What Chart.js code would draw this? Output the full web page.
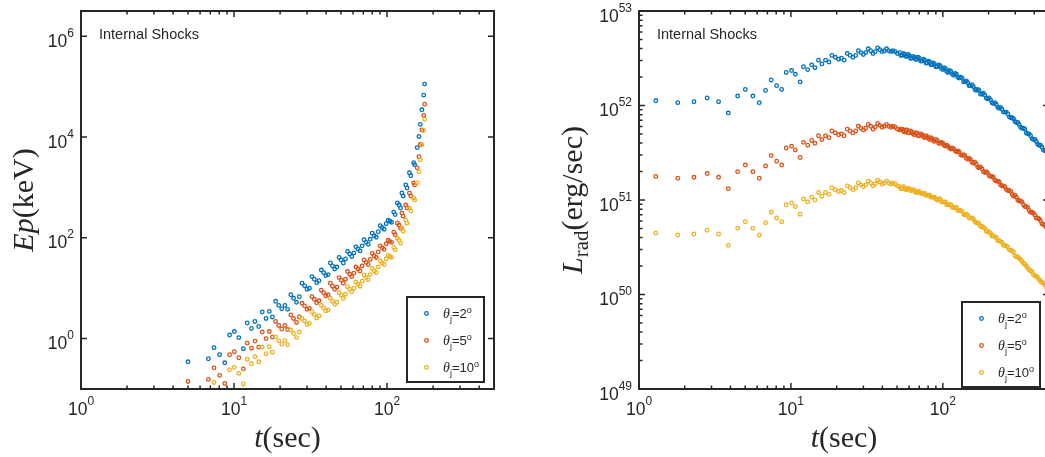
<!DOCTYPE html>
<html>
<head>
<meta charset="utf-8">
<title>Internal shocks: Ep and L_rad vs t</title>
<script src="https://cdn.jsdelivr.net/npm/chart.js@4.4.1/dist/chart.umd.min.js"></script>
<style>
  html, body { margin: 0; padding: 0; background: #fff; overflow: hidden; }
  #wrap { position: relative; width: 1045px; height: 457px; overflow: hidden; }
  canvas { position: absolute; top: 0; }
  #epChart { left: 0; }
  #lumChart { left: 530px; }
</style>
</head>
<body>
<div id="wrap">
  <canvas id="epChart" width="530" height="457"></canvas>
  <canvas id="lumChart" width="530" height="457"></canvas>
</div>
<script>
// jet opening angles (deg), one series per angle
const jetAngles = [2, 5, 10];
const seriesColors = ['#0072BD', '#D95319', '#EDB120'];
const panelNote = 'Internal Shocks';

// tick decades (exponents of 10)
const timeTickExps = [0, 1, 2];
const epTickExps = [0, 2, 4, 6];
const lumTickExps = [49, 50, 51, 52, 53];

// peak energy: t (sec) and log10(Ep / keV); null = off the bottom of the plot
const epTime = [
  5.0, 6.8, 7.4, 8.05, 8.7, 9.35, 10.05, 10.75, 11.5, 12.2,
  13.0, 13.7, 14.5, 15.3, 16.2, 17.0, 17.8, 18.7, 19.6, 20.5,
  21.5, 22.4, 23.5, 24.5, 25.6, 26.7, 27.8, 28.9, 30.0, 31.1,
  32.3, 33.5, 34.7, 35.9, 37.2, 38.5, 39.8, 41.2, 42.6, 44.0,
  45.5, 47.0, 48.6, 50.2, 51.8, 53.5, 55.2, 57.0, 58.8, 60.7,
  62.6, 64.6, 66.6, 68.7, 70.8, 73.0, 75.3, 77.6, 80.0, 82.5,
  85.0, 87.6, 90.3, 93.0, 95.8, 98.7, 101.6, 104.3, 107.1, 110.6,
  112.9, 116.8, 120.0, 122.5, 125.0, 127.4, 132.5, 135.0, 140.0, 143.0,
  149.2, 151.5, 157.4, 161.5, 165.0, 169.0, 173.6, 176.0
];
const logEp2 = [
  -0.46, -0.40, -0.18, -0.32, -0.48, 0.07, 0.14, 0.02, -0.20, 0.31,
  0.20, 0.34, 0.24, 0.53, 0.40, 0.54, 0.43, 0.74, 0.66, 0.59,
  0.66, 0.58, 0.87, 0.80, 0.72, 0.83, 1.10, 1.05, 0.98, 1.00,
  1.23, 1.18, 1.11, 1.15, 1.36, 1.31, 1.25, 1.27, 1.50, 1.44,
  1.38, 1.42, 1.61, 1.56, 1.50, 1.58, 1.73, 1.68, 1.63, 1.70,
  1.82, 1.78, 1.74, 1.84, 1.96, 1.91, 1.87, 1.97, 2.09, 2.04,
  2.01, 2.12, 2.24, 2.20, 2.17, 2.28, 2.35, 2.33, 2.31, 2.51,
  2.46, 2.69, 2.65, 2.59, 2.89, 2.83, 3.05, 2.99, 3.29, 3.23,
  3.49, 3.45, 3.79, 4.01, 4.25, 4.54, 4.83, 5.05
];
const logEp5 = [
  -0.85, -0.81, -0.58, -0.73, -0.89, -0.32, -0.26, -0.38, -0.60, -0.09,
  -0.19, -0.05, -0.17, 0.13, 0.00, 0.14, 0.03, 0.34, 0.26, 0.19,
  0.26, 0.18, 0.47, 0.40, 0.32, 0.43, 0.70, 0.65, 0.58, 0.60,
  0.83, 0.78, 0.71, 0.75, 0.96, 0.91, 0.85, 0.87, 1.10, 1.04,
  0.98, 1.02, 1.21, 1.16, 1.10, 1.18, 1.33, 1.28, 1.23, 1.30,
  1.42, 1.38, 1.34, 1.44, 1.56, 1.51, 1.47, 1.57, 1.69, 1.64,
  1.61, 1.72, 1.84, 1.80, 1.77, 1.88, 1.95, 1.93, 1.91, 2.11,
  2.06, 2.29, 2.25, 2.19, 2.49, 2.43, 2.65, 2.59, 2.89, 2.83,
  3.09, 3.05, 3.39, 3.61, 3.85, 4.14, 4.43, 4.65
];
const logEp10 = [
  null, null, -0.87, null, null, -0.62, -0.57, -0.69, -0.90, -0.41,
  -0.50, -0.36, -0.46, -0.17, -0.30, -0.16, -0.27, 0.04, -0.04, -0.11,
  -0.04, -0.12, 0.17, 0.10, 0.02, 0.13, 0.40, 0.35, 0.28, 0.30,
  0.53, 0.48, 0.41, 0.45, 0.66, 0.61, 0.55, 0.57, 0.80, 0.74,
  0.68, 0.72, 0.91, 0.86, 0.80, 0.88, 1.03, 0.98, 0.93, 1.00,
  1.12, 1.08, 1.04, 1.14, 1.26, 1.21, 1.17, 1.27, 1.39, 1.34,
  1.31, 1.42, 1.54, 1.50, 1.47, 1.58, 1.65, 1.63, 1.61, 1.81,
  1.76, 1.99, 1.95, 1.89, 2.19, 2.13, 2.35, 2.29, 2.59, 2.53,
  2.79, 2.75, 3.09, 3.31, 3.55, 3.84, 4.13, 4.35
];

// radiated luminosity: t (sec) and log10(L_rad / erg s^-1)
const lumTime = [
  1.29, 1.80, 2.30, 2.81, 3.34, 3.87, 4.46, 5.01, 5.62, 6.19,
  6.81, 7.42, 8.05, 8.69, 9.31, 10.1, 10.7, 11.5, 12.1, 12.9,
  13.7, 14.4, 15.2, 16.0, 16.9, 17.8, 18.6, 19.6, 20.6,
  21.5, 22.4, 23.5, 24.5, 25.6, 26.7, 27.8, 28.9, 30.0, 31.1,
  32.3, 33.5, 34.7, 35.9, 37.2, 38.5, 39.8, 41.2, 42.6, 44.0,
  45.5, 47.0, 48.6, 50.2,
  52, 53, 54, 55, 56, 57, 58, 59, 60, 61.2,
  62.5, 63.7, 65, 66.2, 67.5, 68.7, 70, 71.5, 73, 74.5,
  76, 77.5, 79, 80.5, 82, 83.5, 85, 86.5, 88, 90,
  92, 94, 96, 98, 100, 102, 104, 106, 108, 110.5,
  113, 115.5, 118, 120.5, 123, 125.5, 128, 131, 134, 137,
  140, 143, 146, 149, 152, 155.5, 159, 162.5, 166, 169.5,
  173, 177, 181, 185, 189, 193, 197, 201.5, 206, 210.5,
  215, 220, 225, 230, 235, 240, 245, 250.5, 256, 262,
  268, 274, 280, 286, 292, 298.5, 305, 311.5, 318, 325,
  332, 339.5, 347, 354.5, 362, 370, 378, 386.5, 395, 403.5,
  412, 421, 430, 439.5, 449, 459, 469, 479.5, 490
];
const logL2 = [
  52.05, 52.03, 52.04, 52.08, 52.04, 51.92, 52.10, 52.17, 52.10, 52.03,
  52.16, 52.27, 52.21, 52.17, 52.35, 52.37, 52.33, 52.25, 52.41, 52.38,
  52.43, 52.40, 52.48, 52.44, 52.48, 52.46, 52.53, 52.51, 52.49,
  52.50, 52.48, 52.55, 52.53, 52.51, 52.53, 52.58, 52.56, 52.54, 52.56,
  52.60, 52.58, 52.55, 52.57, 52.61, 52.59, 52.57, 52.58, 52.60, 52.58,
  52.57, 52.58, 52.57, 52.55,
  52.56, 52.53, 52.53, 52.55, 52.54, 52.52, 52.52, 52.54, 52.53, 52.50,
  52.50, 52.52, 52.51, 52.49, 52.49, 52.51, 52.50, 52.47, 52.47, 52.49,
  52.48, 52.45, 52.45, 52.47, 52.46, 52.43, 52.43, 52.45, 52.44, 52.41,
  52.41, 52.43, 52.42, 52.39, 52.38, 52.40, 52.39, 52.36, 52.35, 52.37,
  52.36, 52.33, 52.32, 52.34, 52.33, 52.30, 52.29, 52.30, 52.29, 52.25,
  52.25, 52.26, 52.24, 52.21, 52.21, 52.22, 52.20, 52.17, 52.16, 52.17,
  52.16, 52.12, 52.12, 52.13, 52.11, 52.08, 52.07, 52.08, 52.06, 52.03,
  52.02, 52.03, 52.01, 51.98, 51.97, 51.98, 51.96, 51.93, 51.93, 51.93,
  51.91, 51.88, 51.87, 51.87, 51.86, 51.83, 51.82, 51.82, 51.80, 51.77,
  51.76, 51.76, 51.75, 51.71, 51.70, 51.70, 51.68, 51.65, 51.64, 51.64,
  51.62, 51.59, 51.58, 51.58, 51.56, 51.53, 51.52, 51.52, 51.50
];
const logL5 = [
  51.25, 51.23, 51.24, 51.28, 51.24, 51.12, 51.30, 51.37, 51.30, 51.23,
  51.36, 51.47, 51.41, 51.37, 51.55, 51.57, 51.53, 51.45, 51.61, 51.58,
  51.63, 51.60, 51.68, 51.64, 51.68, 51.66, 51.73, 51.71, 51.69,
  51.70, 51.68, 51.75, 51.73, 51.71, 51.73, 51.78, 51.76, 51.74, 51.76,
  51.80, 51.78, 51.75, 51.77, 51.81, 51.79, 51.77, 51.78, 51.80, 51.78,
  51.77, 51.78, 51.77, 51.75,
  51.74, 51.75, 51.75, 51.73, 51.72, 51.74, 51.74, 51.71, 51.71, 51.73,
  51.72, 51.70, 51.69, 51.71, 51.71, 51.68, 51.68, 51.70, 51.69, 51.67,
  51.66, 51.68, 51.67, 51.65, 51.64, 51.66, 51.65, 51.63, 51.62, 51.64,
  51.63, 51.60, 51.60, 51.61, 51.60, 51.58, 51.57, 51.58, 51.57, 51.55,
  51.54, 51.55, 51.54, 51.52, 51.51, 51.52, 51.51, 51.48, 51.47, 51.48,
  51.47, 51.44, 51.43, 51.44, 51.43, 51.40, 51.39, 51.40, 51.38, 51.35,
  51.34, 51.35, 51.33, 51.30, 51.29, 51.30, 51.29, 51.26, 51.25, 51.25,
  51.24, 51.21, 51.20, 51.20, 51.19, 51.16, 51.15, 51.15, 51.14, 51.11,
  51.10, 51.10, 51.09, 51.06, 51.04, 51.05, 51.03, 51.00, 50.99, 50.99,
  50.98, 50.95, 50.93, 50.93, 50.92, 50.89, 50.87, 50.87, 50.86, 50.84,
  50.81, 50.81, 50.80, 50.78, 50.75, 50.74, 50.73, 50.71, 50.69
];
const logL10 = [
  50.65, 50.63, 50.64, 50.68, 50.64, 50.52, 50.70, 50.77, 50.70, 50.63,
  50.76, 50.87, 50.81, 50.77, 50.95, 50.97, 50.93, 50.85, 51.01, 50.98,
  51.03, 51.00, 51.08, 51.04, 51.08, 51.06, 51.13, 51.11, 51.09,
  51.10, 51.08, 51.15, 51.13, 51.11, 51.13, 51.18, 51.16, 51.14, 51.16,
  51.20, 51.18, 51.15, 51.17, 51.21, 51.19, 51.17, 51.18, 51.20, 51.18,
  51.17, 51.18, 51.17, 51.15,
  51.14, 51.12, 51.12, 51.14, 51.13, 51.11, 51.11, 51.12, 51.12, 51.10,
  51.10, 51.11, 51.10, 51.08, 51.08, 51.09, 51.09, 51.07, 51.07, 51.07,
  51.07, 51.05, 51.05, 51.05, 51.05, 51.03, 51.03, 51.03, 51.03, 51.01,
  51.00, 51.01, 51.01, 50.98, 50.98, 50.98, 50.98, 50.95, 50.95, 50.95,
  50.95, 50.92, 50.92, 50.92, 50.92, 50.89, 50.89, 50.89, 50.88, 50.85,
  50.84, 50.85, 50.84, 50.81, 50.81, 50.81, 50.80, 50.77, 50.76, 50.76,
  50.75, 50.72, 50.72, 50.71, 50.70, 50.67, 50.67, 50.66, 50.65, 50.62,
  50.62, 50.61, 50.60, 50.57, 50.57, 50.56, 50.55, 50.52, 50.52, 50.51,
  50.50, 50.47, 50.47, 50.46, 50.45, 50.41, 50.40, 50.40, 50.38, 50.37,
  50.35, 50.33, 50.32, 50.30, 50.28, 50.26, 50.25, 50.24, 50.21, 50.20,
  50.19, 50.18, 50.16, 50.14, 50.13, 50.12, 50.10, 50.08, 50.07
];

const ink = '#262626';
const sans = '"Liberation Sans", Arial, Helvetica, sans-serif';
const serif = '"Liberation Serif", "Times New Roman", serif';
const tickFont = '17.5px ' + sans;
const supFont = '12px ' + sans;
const titleFont = '30px ' + serif;
const titleItalic = 'italic 30px ' + serif;
const markerRadius = 1.8;
const markerWidth = 1.3;

// draw text pieces (for super/subscripts) along one baseline
function drawRuns(ctx, runs, x, y, align) {
  let total = 0;
  for (const r of runs) {
    ctx.font = r.font;
    r.w = ctx.measureText(r.text).width;
    total += r.w;
  }
  let cx = align === 'center' ? x - total / 2 : align === 'right' ? x - total : x;
  for (const r of runs) {
    ctx.font = r.font;
    ctx.fillText(r.text, cx, y + (r.dy || 0));
    cx += r.w;
  }
}

const powerRuns = exp => [
  { text: '10', font: tickFont },
  { text: String(exp), font: supFont, dy: -10 }
];

// MATLAB-style box: inward ticks on all sides, 10^n labels, titles, note and legend
function makeDecor(cfg) {
  return {
    id: 'decor_' + cfg.name,
    afterDatasetsDraw(chart) {
      const { ctx, chartArea: a } = chart;
      const x = chart.scales.x, y = chart.scales.y;
      ctx.save();
      ctx.strokeStyle = ink;
      ctx.fillStyle = ink;
      ctx.textBaseline = 'alphabetic';

      ctx.lineWidth = 1.5;
      ctx.beginPath();
      const xTick = (v, len) => {
        const p = x.getPixelForValue(v);
        ctx.moveTo(p, a.bottom); ctx.lineTo(p, a.bottom - len);
        ctx.moveTo(p, a.top); ctx.lineTo(p, a.top + len);
      };
      const yTick = (v, len) => {
        const p = y.getPixelForValue(v);
        ctx.moveTo(a.left, p); ctx.lineTo(a.left + len, p);
        ctx.moveTo(a.right, p); ctx.lineTo(a.right - len, p);
      };
      timeTickExps.forEach(e => {
        xTick(10 ** e, 6);
        for (let m = 2; m <= 9; m++) {
          if (m * 10 ** e < x.max) xTick(m * 10 ** e, 3.5);
        }
      });
      const lastExp = cfg.yExps[cfg.yExps.length - 1];
      cfg.yExps.forEach(e => {
        yTick(10 ** e, 6);
        if (cfg.yMinor && e < lastExp) {
          for (let m = 2; m <= 9; m++) yTick(m * 10 ** e, 3.5);
        }
      });
      ctx.stroke();

      ctx.lineWidth = 2;
      ctx.strokeRect(a.left, a.top, a.right - a.left, a.bottom - a.top);

      timeTickExps.forEach(e => {
        drawRuns(ctx, powerRuns(e), x.getPixelForValue(10 ** e), a.bottom + 26, 'center');
      });
      cfg.yExps.forEach(e => {
        drawRuns(ctx, powerRuns(e), a.left - 7, y.getPixelForValue(10 ** e) + 10.5, 'right');
      });

      // axis titles
      drawRuns(ctx, [
        { text: 't', font: titleItalic },
        { text: '(sec)', font: titleFont }
      ], (a.left + a.right) / 2, 447, 'center');
      ctx.save();
      ctx.translate(a.left - cfg.yTitleGap, (a.top + a.bottom) / 2);
      ctx.rotate(-Math.PI / 2);
      drawRuns(ctx, cfg.yTitle, 0, 0, 'center');
      ctx.restore();

      ctx.font = '14.5px ' + sans;
      ctx.fillText(panelNote, a.left + 18, a.top + 28);

      // legend
      const b = cfg.legendBox;
      ctx.fillStyle = '#fff';
      ctx.fillRect(b.x, b.y, b.w, b.h);
      ctx.lineWidth = 2;
      ctx.strokeStyle = ink;
      ctx.strokeRect(b.x, b.y, b.w, b.h);
      chart.data.datasets.forEach((ds, i) => {
        const rowY = b.y + 16.5 + i * 27;
        ctx.beginPath();
        ctx.arc(b.x + 19.5, rowY, markerRadius, 0, 2 * Math.PI);
        ctx.lineWidth = markerWidth;
        ctx.strokeStyle = ds.borderColor;
        ctx.stroke();
        ctx.fillStyle = ink;
        drawRuns(ctx, [
          { text: 'θ', font: 'italic 14px ' + serif },
          { text: 'j', font: '9px ' + sans, dy: 4 },
          { text: '=' + jetAngles[i], font: '13px ' + sans },
          { text: 'o', font: '9px ' + sans, dy: -5 }
        ], b.x + 36, rowY + 4, 'left');
      });
      ctx.restore();
    }
  };
}

function makePanel(canvasId, time, logSeries, yMin, yMax, padding, decor) {
  const datasets = logSeries.map((vals, i) => ({
    label: 'θj=' + jetAngles[i] + '°',
    data: time.map((t, k) => ({ x: t, y: vals[k] === null ? null : 10 ** vals[k] })),
    borderColor: seriesColors[i],
    backgroundColor: 'rgba(0,0,0,0)',
    pointRadius: markerRadius,
    pointHoverRadius: markerRadius,
    pointBorderWidth: markerWidth,
    order: logSeries.length - 1 - i
  }));
  return new Chart(document.getElementById(canvasId), {
    type: 'scatter',
    data: { datasets },
    options: {
      responsive: false,
      animation: false,
      devicePixelRatio: 1,
      events: [],
      layout: { padding },
      scales: {
        x: { type: 'logarithmic', min: 1, max: 500, display: false },
        y: { type: 'logarithmic', min: yMin, max: yMax, display: false }
      },
      plugins: {
        legend: { display: false },
        tooltip: { enabled: false }
      }
    },
    plugins: [decor]
  });
}

makePanel('epChart', epTime, [logEp2, logEp5, logEp10], 0.1, 10 ** 6.5,
  { left: 81, top: 11, right: 36, bottom: 68 },
  makeDecor({
    name: 'ep',
    yExps: epTickExps,
    yMinor: false,
    yTitleGap: 48.5,
    yTitle: [
      { text: 'Ep', font: titleItalic },
      { text: '(keV)', font: titleFont }
    ],
    legendBox: { x: 407, y: 297, w: 77, h: 85 }
  }));

makePanel('lumChart', lumTime, [logL2, logL5, logL10], 1e49, 1e53,
  { left: 109, top: 11, right: 11, bottom: 68 },
  makeDecor({
    name: 'lum',
    yExps: lumTickExps,
    yMinor: true,
    yTitleGap: 57.5,
    yTitle: [
      { text: 'L', font: titleItalic },
      { text: 'rad', font: '21px ' + serif, dy: 6 },
      { text: '(erg/sec)', font: titleFont }
    ],
    legendBox: { x: 432, y: 302, w: 78, h: 85 }
  }));
</script>
</body>
</html>
